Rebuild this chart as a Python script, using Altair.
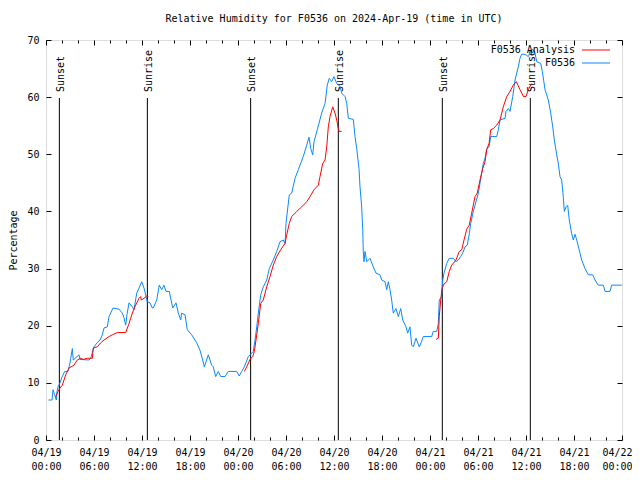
import altair as alt
import pandas as pd

TITLE = "Relative Humidity for F0536 on 2024-Apr-19 (time in UTC)"
Y_TITLE = "Percentage"
FONT = "DejaVu Sans Mono"

# Observations (F0536): hours since 2024-04-19 00:00 UTC, relative humidity (%)
obs_hours = [0.30, 0.75, 0.88, 1.06, 1.29, 1.38, 1.50, 1.75, 2.00, 2.34, 2.75, 3.00, 3.09, 3.29, 3.41,
             4.13, 4.25, 5.38, 5.59, 6.00, 6.38, 6.75, 7.04, 7.25, 7.66, 7.88, 8.38, 9.13, 9.54, 9.75,
             9.96, 10.13, 10.38, 10.79, 11.00, 11.34, 11.63, 11.96, 12.25, 12.66, 13.00, 13.29, 13.41,
             13.84, 14.16, 14.46, 14.75, 15.00, 15.41, 15.84, 16.25, 16.54, 16.84, 16.96, 17.38, 17.66,
             18.21, 18.84, 19.25, 19.59, 19.79, 20.29, 20.71, 20.91, 21.21, 21.54, 21.84, 22.38, 22.79,
             23.84, 24.16, 24.46, 24.79, 25.29, 25.91, 26.13, 26.34, 26.54, 26.84, 27.16, 27.59, 27.91,
             28.41, 28.84, 29.25, 29.66, 29.88, 30.00, 30.41, 30.71, 31.13, 31.54, 32.16, 32.59, 32.88,
             33.09, 33.34, 33.50, 33.91, 34.46, 34.88, 35.16, 35.41, 35.71, 36.00, 36.34, 36.75, 36.96,
             37.38, 37.59, 37.79, 38.41, 38.63, 38.84, 39.13, 39.25, 39.46, 39.59, 39.66, 39.75, 39.88,
             40.09, 40.50, 40.91, 41.25, 41.75, 41.96, 42.38, 42.59, 42.79, 43.00, 43.21, 43.41, 43.75,
             44.04, 44.34, 44.59, 45.00, 45.21, 45.50, 45.71, 45.91, 46.25, 46.66, 46.88, 47.16, 48.21,
             48.41, 48.84, 49.04, 49.16, 49.46, 49.59, 49.75, 50.09, 50.41, 50.91, 51.25, 51.54, 51.84,
             52.09, 52.38, 52.66, 52.91, 53.09, 53.41, 53.75, 54.04, 54.25, 54.46, 54.66, 54.88, 55.09,
             55.38, 55.59, 56.34, 56.54, 56.75, 57.38, 57.50, 57.79, 58.00, 58.34, 58.63, 59.04, 59.25,
             59.46, 59.88, 60.29, 60.59, 60.84, 61.13, 61.34, 61.84, 62.04, 62.38, 62.79, 63.09, 63.34,
             63.54, 63.84, 64.04, 64.25, 64.46, 64.66, 64.79, 65.00, 65.21, 65.41, 65.71, 65.91, 66.13,
             66.34, 66.75, 66.96, 67.38, 67.79, 68.34, 68.63, 69.04, 69.66, 69.88, 70.50, 70.71, 71.96]
obs_rh = [7.0, 7.0, 8.8, 8.0, 7.0, 8.5, 9.3, 10.0, 11.0, 12.0, 12.0, 13.5, 14.3, 16.0, 14.0,
          14.9, 14.1, 14.0, 14.3, 16.3, 17.0, 17.5, 18.4, 19.6, 19.8, 21.6, 23.1, 22.9, 22.2, 21.4,
          20.1, 22.0, 24.0, 23.3, 22.8, 25.7, 26.6, 27.7, 26.6, 24.2, 24.0, 23.1, 23.1,
          24.5, 27.1, 26.3, 27.1, 26.0, 26.0, 23.1, 24.0, 22.2, 21.0, 22.2, 21.9, 19.3,
          18.4, 17.0, 15.7, 14.0, 12.8, 14.9, 13.1, 12.8, 11.1, 12.0, 11.1, 11.1, 12.0,
          12.0, 11.2, 12.0, 12.8, 14.6, 15.5, 17.5, 19.8, 22.2, 25.4, 26.8, 28.0, 30.0,
          31.5, 33.0, 34.7, 35.0, 34.4, 37.9, 42.9, 43.2, 45.8, 47.3, 49.6, 51.6, 53.0,
          51.0, 49.9, 52.2, 54.3, 57.2, 58.9, 62.1, 63.3, 62.7, 63.6, 62.4, 61.9, 60.7,
          60.1, 58.9, 56.3, 56.1, 53.1, 51.0, 47.5, 44.3, 40.8, 36.8, 33.0, 31.2, 33.0,
          31.2, 31.8, 30.3, 29.2, 28.9, 28.0, 27.7, 26.3, 27.7, 26.3, 24.5, 22.2, 23.0,
          21.6, 23.0, 21.0, 19.8, 18.7, 19.8, 16.6, 16.3, 17.8, 16.3, 17.0, 18.1, 18.1,
          19.0, 19.0, 20.4, 24.5, 25.1, 28.0, 29.2, 30.9, 31.8, 31.8, 31.2, 31.5, 32.1,
          32.7, 33.8, 34.1, 36.1, 37.9, 40.0, 41.7, 43.2, 44.9, 46.7, 48.4, 49.3, 51.0,
          51.3, 53.1, 53.1, 54.3, 56.0, 56.3, 57.5, 58.0, 57.5, 60.1, 63.0, 65.3, 66.8,
          67.5, 67.5, 67.1, 68.0, 68.4, 67.7, 66.2, 65.9, 64.5, 61.3, 59.5, 57.2, 54.8,
          52.5, 49.9, 48.4, 46.1, 45.5, 42.6, 40.0, 40.8, 41.1, 38.5, 36.1, 35.0, 36.0,
          35.0, 32.7, 31.5, 30.0, 28.9, 28.9, 28.0, 27.1, 27.1, 26.0, 26.0, 27.1, 27.1]

# Analysis (F0536 Analysis): three separate segments
ana1_hours = [1.21, 1.50, 1.75, 2.04, 2.46, 2.88, 3.50, 3.91, 4.34, 4.66, 5.16, 5.79, 5.91, 6.41,
              6.84, 7.25, 7.88, 8.29, 8.91, 9.96, 10.38, 10.79, 11.21, 11.63, 11.84, 11.91, 12.25,
              12.59, 12.79]
ana1_rh = [7.6, 8.5, 9.1, 9.6, 11.4, 12.6, 13.1, 14.0, 14.3, 14.1, 14.3, 14.3, 16.1, 16.3,
           17.0, 17.5, 18.1, 18.4, 18.8, 18.8, 20.4, 22.2, 23.6, 24.8, 25.1, 24.5, 24.8,
           25.2, 25.1]
ana2_hours = [24.79, 25.09, 25.50, 25.84, 26.04, 26.25, 26.54, 26.84, 27.16, 27.59, 28.00, 28.41,
              28.84, 29.34, 29.88, 30.09, 30.41, 30.71, 31.34, 31.96, 32.59, 33.00, 33.50, 34.04,
              34.25, 34.59, 34.88, 35.09, 35.29, 35.50, 35.84, 36.13, 36.34, 36.54, 36.66, 36.96]
ana2_rh = [12.0, 12.8, 14.1, 14.6, 15.5, 17.5, 20.4, 23.9, 24.5, 26.8, 28.6, 30.6,
           32.1, 33.3, 34.4, 35.9, 37.9, 39.1, 40.0, 40.8, 41.7, 42.6, 43.8, 44.6,
           46.1, 48.4, 49.0, 51.3, 54.8, 56.6, 58.3, 57.2, 56.0, 54.5, 54.0, 54.0]
ana3_hours = [48.75, 49.04, 49.16, 49.34, 49.50, 49.75, 50.09, 50.41, 50.71, 51.25, 51.66, 51.96,
              52.25, 52.59, 52.91, 53.21, 53.63, 53.91, 54.25, 54.59, 54.88, 55.09, 55.38, 55.59,
              55.91, 56.34, 56.75, 57.16, 57.59, 58.00, 58.41, 58.79, 59.25, 59.69, 60.00, 60.29,
              60.71]
ana3_rh = [17.6, 17.8, 21.6, 24.5, 26.5, 27.3, 27.7, 29.5, 30.6, 31.5, 33.0, 33.3,
           35.0, 36.9, 37.6, 39.7, 42.6, 43.2, 45.5, 47.5, 48.7, 50.8, 51.9, 54.3,
           54.5, 55.1, 56.0, 58.3, 60.1, 61.0, 62.1, 62.7, 61.3, 60.1, 60.1, 61.3,
           62.4]

sun_hours = [1.67, 12.67, 25.58, 36.54, 49.54, 60.54]
sun_labels = ["Sunset", "Sunrise", "Sunset", "Sunrise", "Sunset", "Sunrise"]

x_tick_hours = [0, 6, 12, 18, 24, 30, 36, 42, 48, 54, 60, 66, 72]
x_tick_dates = ["04/19", "04/19", "04/19", "04/19", "04/20", "04/20", "04/20", "04/20",
                "04/21", "04/21", "04/21", "04/21", "04/22"]
x_tick_times = ["00:00", "06:00", "12:00", "18:00", "00:00", "06:00", "12:00", "18:00",
                "00:00", "06:00", "12:00", "18:00", "00:00"]
x_minor_hours = list(range(0, 73, 2))
y_ticks = [0, 10, 20, 30, 40, 50, 60, 70]

legend_names = ["F0536 Analysis", "F0536"]
legend_colors = ["#ff0000", "#0a88ff"]

W, H = 576, 400

obs = pd.DataFrame({"h": obs_hours, "rh": obs_rh})
ana = pd.concat([
    pd.DataFrame({"h": ana1_hours, "rh": ana1_rh, "seg": 1}),
    pd.DataFrame({"h": ana2_hours, "rh": ana2_rh, "seg": 2}),
    pd.DataFrame({"h": ana3_hours, "rh": ana3_rh, "seg": 3}),
], ignore_index=True)
sun = pd.DataFrame({"h": sun_hours, "label": sun_labels})

xscale = alt.Scale(domain=[0, 72], nice=False, zero=False)
yscale = alt.Scale(domain=[0, 70], nice=False, zero=False)

label_expr = "[{d}[round(datum.value/6)], {t}[round(datum.value/6)]]".format(
    d=str(x_tick_dates), t=str(x_tick_times))

tick_cond = {"condition": {"test": "datum.value % 6 === 0", "value": 5}, "value": 3}
last_tick = "datum.value === {}".format(x_tick_hours[-1])
label_align = {"condition": {"test": last_tick, "value": "right"}, "value": "center"}
label_shift = {"condition": {"test": last_tick, "value": 10}, "value": 0}

# main labelled axes (no ticks)
x_label_axis = alt.Axis(orient="bottom", values=x_tick_hours, labelExpr=label_expr, ticks=False,
                        tickSize=0, domain=False, grid=False, labelPadding=7, labelLineHeight=14,
                        labelFont=FONT, labelFontSize=10, labelColor="black", labelAngle=0,
                        labelAlign=label_align, labelOffset=label_shift,
                        labelOverlap=False, labelFlush=False, title=None)
y_label_axis = alt.Axis(orient="left", values=y_ticks, ticks=False, tickSize=0, domain=False,
                        grid=False, labelPadding=7, labelFont=FONT, labelFontSize=10,
                        labelColor="black", title=Y_TITLE, titleFont=FONT, titleFontSize=10,
                        titleFontWeight="normal", titleColor="black", titleX=-33, titleY=H / 2,
                        titleAngle=270, titleAlign="center", titleBaseline="middle")
# inward ticks at bottom and left
x_in_bottom = alt.Axis(orient="top", offset=-H, values=x_minor_hours, labels=False, domain=False,
                       grid=False, tickSize=tick_cond, tickColor="black", title=None)
y_in_left = alt.Axis(orient="right", offset=-W, values=y_ticks, labels=False, domain=False,
                     grid=False, tickSize=5, tickColor="black", title=None)
# inward ticks at top and right
x_in_top = alt.Axis(orient="bottom", offset=-H, values=x_minor_hours, labels=False, domain=False,
                    grid=False, tickSize=tick_cond, tickColor="black", title=None)
y_in_right = alt.Axis(orient="left", offset=-W, values=y_ticks, labels=False, domain=False,
                      grid=False, tickSize=5, tickColor="black", title=None)

obs_line = alt.Chart(obs).mark_line(color=legend_colors[1], strokeWidth=1).encode(
    x=alt.X("h:Q", scale=xscale, axis=x_label_axis),
    y=alt.Y("rh:Q", scale=yscale, axis=y_label_axis),
)
ana_line = alt.Chart(ana).mark_line(color=legend_colors[0], strokeWidth=1).encode(
    x=alt.X("h:Q", scale=xscale, axis=x_in_bottom),
    y=alt.Y("rh:Q", scale=yscale, axis=y_in_left),
    detail="seg:N",
)
sun_rules = alt.Chart(sun).mark_rule(color="black", strokeWidth=1).encode(
    x=alt.X("h:Q", scale=xscale, axis=x_in_top),
    y=alt.Y(datum=0, scale=yscale, axis=y_in_right),
    y2=alt.value(58),
)
sun_text = alt.Chart(sun).mark_text(angle=270, align="left", baseline="middle", dy=1.5,
                                    font=FONT, fontSize=10, color="black").encode(
    x=alt.X("h:Q", scale=xscale, axis=None),
    y=alt.value(52),
    text="label:N",
)

legend_layers = []
for i, (name, col) in enumerate(zip(legend_names, legend_colors)):
    ld = pd.DataFrame({"name": [name]})
    legend_layers.append(
        alt.Chart(ld).mark_text(align="right", baseline="middle", font=FONT, fontSize=10,
                                color="black").encode(
            x=alt.value(529), y=alt.value(10 + 13 * i), text="name:N"))
    legend_layers.append(
        alt.Chart(ld).mark_rule(color=col, strokeWidth=1).encode(
            x=alt.value(536), x2=alt.value(564), y=alt.value(10 + 13 * i)))

chart = alt.layer(sun_rules, sun_text, obs_line, ana_line, *legend_layers).resolve_axis(
    x="independent", y="independent"
).properties(
    width=W, height=H,
    title=alt.TitleParams(text=TITLE, font=FONT, fontSize=10, fontWeight="normal",
                          anchor="middle", offset=11, color="black"),
    autosize=alt.AutoSizeParams(type="none"),
    padding={"left": 38, "top": 32, "right": 10, "bottom": 32},
).configure_view(stroke="black", strokeWidth=1).configure(background="white")

chart.save("out.html", embed_options={"renderer": "svg", "actions": False})
